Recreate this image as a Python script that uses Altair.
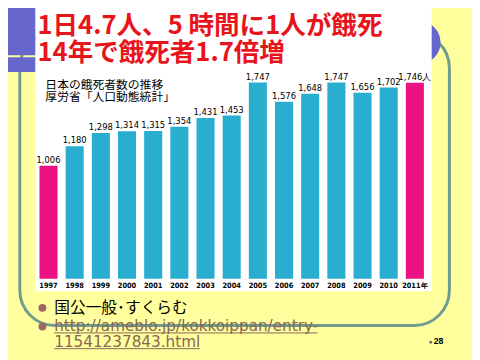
import altair as alt
import pandas as pd

# ---- data ----
years = ["1997", "1998", "1999", "2000", "2001", "2002", "2003", "2004",
         "2005", "2006", "2007", "2008", "2009", "2010", "2011"]
year_labels = ["1997", "1998", "1999", "2000", "2001", "2002", "2003", "2004",
               "2005", "2006", "2007", "2008", "2009", "2010", "2011年"]
values = [1006, 1180, 1298, 1314, 1315, 1354, 1431, 1453,
          1747, 1576, 1648, 1747, 1656, 1702, 1746]
value_labels = ["1,006", "1,180", "1,298", "1,314", "1,315", "1,354", "1,431", "1,453",
                "1,747", "1,576", "1,648", "1,747", "1,656", "1,702", "1,746人"]
groups = ["pink"] + ["blue"] * 13 + ["pink"]

title_lines = ["1日4.7人、5 時間に1人が餓死", "14年で餓死者1.7倍増"]
subtitle_lines = ["日本の餓死者数の推移", "厚労省「人口動態統計」"]
bullet_text = "国公一般･すくらむ"
url_lines = ["http://ameblo.jp/kokkoippan/entry-", "11541237843.html"]
page_number = "28"

# ---- style ----
YELLOW = "#FFFF9E"
BLUE = "#29AECF"
PINK = "#EC1283"
SLATE = "#6666CC"
TEAL = "#6E9C8E"
RED = "#E8141C"
BROWN = "#8A6656"
JP = "Noto Sans CJK JP"
COND = "DejaVu Sans Condensed, sans-serif"

OFF = 8
def p(v):
    return v - OFF

W, H = 472, 352
one = pd.DataFrame({"a": [0]})

def deco():
    return alt.Chart(one)

frame = deco().mark_rect(fillOpacity=0, stroke=TEAL, strokeWidth=3, cornerRadius=36).encode(
    x=alt.value(p(20)), x2=alt.value(p(457)), y=alt.value(p(30)), y2=alt.value(p(328)))
blue_rect = deco().mark_rect(color=SLATE).encode(
    x=alt.value(p(0)), x2=alt.value(p(36)), y=alt.value(p(4)), y2=alt.value(p(53)))
blue_band = deco().mark_rect(color=SLATE).encode(
    x=alt.value(p(0)), x2=alt.value(p(36)), y=alt.value(p(55)), y2=alt.value(p(70)))
circle = deco().mark_point(shape="circle", filled=True, opacity=1, color=SLATE, size=44 * 44).encode(
    x=alt.value(p(426)), y=alt.value(p(40)))
panel = deco().mark_rect(color="white").encode(
    x=alt.value(p(36)), x2=alt.value(p(439)), y=alt.value(p(4)), y2=alt.value(p(293)))

title_df = pd.DataFrame({"t": title_lines, "y": [p(31), p(59)]})
title = alt.Chart(title_df).mark_text(align="left", baseline="alphabetic", font=JP, fontSize=26,
                                      fontWeight="bold", color=RED).encode(
    x=alt.value(p(38)), y=alt.Y("y:Q", scale=None), text="t:N")

sub_df = pd.DataFrame({"t": subtitle_lines, "y": [p(87.5), p(99.5)]})
subtitle = alt.Chart(sub_df).mark_text(align="left", baseline="alphabetic", font=JP, fontSize=12,
                                       color="black").encode(
    x=alt.value(p(46)), y=alt.Y("y:Q", scale=None), text="t:N")

df = pd.DataFrame({"year": years, "value": values, "label": value_labels,
                   "ylab": year_labels, "g": groups})
xs = alt.Scale(domain=years, range=[p(35.9), p(435.2)], paddingInner=0.31, paddingOuter=0.155)
ys = alt.Scale(domain=[0, 2000], range=[p(280.5), p(51.9)], nice=False)

base = alt.Chart(df)
bars = base.mark_bar().encode(
    x=alt.X("year:N", scale=xs, axis=None, sort=years),
    y=alt.Y("value:Q", scale=ys, axis=None),
    color=alt.Color("g:N", scale=alt.Scale(domain=["pink", "blue"], range=[PINK, BLUE]), legend=None),
)
vlabels = base.mark_text(baseline="bottom", dy=-1, font=COND, fontSize=9.5,
                         color="black").encode(
    x=alt.X("year:N", scale=xs, axis=None, sort=years),
    y=alt.Y("value:Q", scale=ys, axis=None),
    text="label:N")
ylabels = base.mark_text(baseline="middle", font=COND, fontSize=7.5, fontWeight=600,
                         color="black").encode(
    x=alt.X("year:N", scale=xs, axis=None, sort=years),
    y=alt.value(p(288)),
    text="ylab:N")

dots = alt.Chart(pd.DataFrame({"y": [p(310), p(329)]})).mark_point(
    shape="circle", filled=True, opacity=1, color="#A06666", size=64).encode(
    x=alt.value(p(43)), y=alt.Y("y:Q", scale=None))
btext = deco().mark_text(align="left", baseline="middle", font=JP, fontSize=16, color="black").encode(
    x=alt.value(p(55)), y=alt.value(p(310)), text=alt.value(bullet_text))
url_df = pd.DataFrame({"t": url_lines, "y": [p(333.5), p(349.5)]})
urls = alt.Chart(url_df).mark_text(align="left", baseline="alphabetic", font="DejaVu Sans",
                                   fontSize=15.5, color=BROWN).encode(
    x=alt.value(p(55)), y=alt.Y("y:Q", scale=None), text="t:N")
ul1 = deco().mark_rule(color=BROWN, strokeWidth=1).encode(
    x=alt.value(p(55)), x2=alt.value(p(323)), y=alt.value(p(335.5)))
ul2 = deco().mark_rule(color=BROWN, strokeWidth=1).encode(
    x=alt.value(p(55)), x2=alt.value(p(203)), y=alt.value(p(351.5)))
pdot = deco().mark_point(shape="circle", filled=True, opacity=1, color=BROWN, size=9).encode(
    x=alt.value(p(438)), y=alt.value(p(345)))
pnum = deco().mark_text(align="left", baseline="middle", font="Liberation Sans", fontSize=9,
                        fontWeight="bold", color="black").encode(
    x=alt.value(p(441)), y=alt.value(p(344)), text=alt.value(page_number))

chart = alt.layer(
    frame, blue_rect, blue_band, circle, panel, title, subtitle,
    bars, vlabels, ylabels, dots, btext, urls, ul1, ul2, pnum, pdot,
).resolve_scale(y="independent").properties(
    width=W, height=H, padding=0, autosize=alt.AutoSizeParams(type="none"),
    background=YELLOW,
).configure_view(stroke=None)

chart.save("out.html", embed_options={"renderer": "svg", "actions": False})
